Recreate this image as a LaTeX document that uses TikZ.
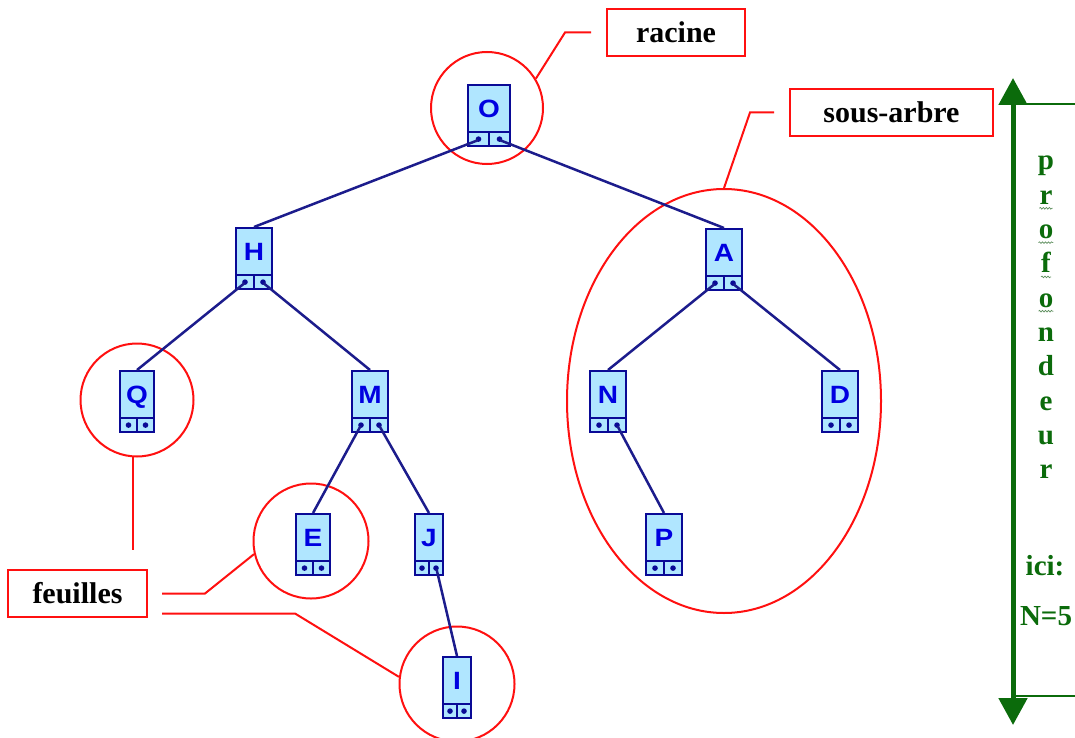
\documentclass[tikz,border=0pt]{standalone}
\usepackage{fontspec}
\usepackage{graphicx}
\setmainfont{Liberation Serif}
\newfontfamily\lettersans{Liberation Sans}
\usetikzlibrary{calc,shapes.geometric,decorations.pathmorphing,arrows.meta}

\definecolor{boxblue}{HTML}{0A0A96}
\definecolor{boxfill}{HTML}{B0E6FF}
\definecolor{letterblue}{HTML}{0000E0}
\definecolor{edgeblue}{HTML}{1C1C8C}
\definecolor{markred}{HTML}{FF1010}
\definecolor{depthgreen}{HTML}{0B6B0B}
\definecolor{squiggle}{HTML}{5E8F5E}

\newcommand\widelet[1]{\scalebox{1.12}[1]{#1}}

\begin{document}
\begin{tikzpicture}[x=1pt,y=-1pt,
  tnode/.style={draw=boxblue, fill=boxfill, line width=2.2pt, rectangle,
    anchor=north, inner sep=0pt, minimum width=#1,
    text height=32.5pt, text depth=28.5pt, text=letterblue,
    font=\lettersans\bfseries\fontsize{25}{25}\selectfont,
    path picture={
      \draw[boxblue, line width=2.2pt]
        ([yshift=14pt]path picture bounding box.south west) --
        ([yshift=14pt]path picture bounding box.south east);
      \draw[boxblue, line width=2.2pt]
        (path picture bounding box.south) --
        ([yshift=14pt]path picture bounding box.south);
      \fill[boxblue] ($(path picture bounding box.south west)!.5!(path picture bounding box.south)+(0,-7)$) circle (2.8pt);
      \fill[boxblue] ($(path picture bounding box.south east)!.5!(path picture bounding box.south)+(0,-7)$) circle (2.8pt);
    }},
  edge/.style={edgeblue, line width=2.5pt},
  ring/.style={circle, draw=markred, line width=2pt, minimum size=#1, inner sep=0pt},
  lab/.style={draw=markred, fill=white, line width=2pt, inner sep=0pt,
    minimum height=47pt, font=\bfseries\fontsize{30}{30}\selectfont},
  lead/.style={markred, line width=2pt},
  depthtxt/.style={anchor=base, inner sep=0pt, text=depthgreen,
    font=\bfseries\fontsize{29}{29}\selectfont},
  wavy/.style={squiggle, line width=0.7pt,
    decorate, decoration={snake, segment length=3pt, amplitude=0.8pt}}
]
\fill[white] (0,0) rectangle (1075,738);
\useasboundingbox (0,0) rectangle (1075,738);

% red highlight rings and the subtree ellipse
\node[ring=112pt] (cO) at (487,108) {};
\node[ring=113pt] (cQ) at (137,400) {};
\node[ring=115pt] (cE) at (311,541) {};
\node[ring=115pt] (cI) at (457,684) {};
\node[ellipse, draw=markred, line width=2pt, minimum width=314pt,
      minimum height=424pt, inner sep=0pt] (sub) at (724,401) {};

% tree nodes
\node[tnode=42pt] (O) at (489,84)  {\widelet{O}};
\node[tnode=36pt] (H) at (254,227) {\widelet{H}};
\node[tnode=36pt] (A) at (724,228) {\widelet{A}};
\node[tnode=34pt] (Q) at (137,370) {\widelet{Q}};
\node[tnode=36pt] (M) at (370,370) {\widelet{M}};
\node[tnode=36pt] (N) at (608,370) {\widelet{N}};
\node[tnode=36pt] (D) at (840,370) {\widelet{D}};
\node[tnode=34pt] (E) at (313,513) {\widelet{E}};
\node[tnode=28pt] (J) at (429,513) {\widelet{J}};
\node[tnode=36pt] (P) at (664,513) {\widelet{P}};
\node[tnode=28pt] (I) at (457,656) {\widelet{I}};

% child links, from the pointer dot of the parent to the top of the child
\foreach \p/\c/\s in {O/H/west, O/A/east, H/Q/west, H/M/east, M/E/west,
                      M/J/east, J/I/east, A/N/west, A/D/east, N/P/east}
  \draw[edge] ($(\p.south \s)!.5!(\p.south)+(0,-7)$) -- (\c.north);

% labels
\node[lab, minimum width=138pt] (racine) at (676,32.5) {racine};
\node[lab, minimum width=203pt] (sousarbre) at (891.5,112.5) {sous-arbre};
\node[lab, minimum width=139pt] (feuilles) at (77.5,593.5) {feuilles};

% leader lines
\draw[lead] (cO.31) -- (565,32.5) -- ([xshift=-15pt]racine.west);
\draw[lead] ([xshift=-15pt]sousarbre.west) -- (750,112.5) -- (sub.north);
\draw[lead] ([xshift=14pt]feuilles.east) -- (205,593.5) -- (cE.193);
\draw[lead] ([xshift=14pt,yshift=-20pt]feuilles.east) -- (295,613.5) -- (cI.173);
\draw[lead] (cQ.266) -- ++(0,93);

% depth arrow
\coordinate (dtop) at (1013,78);
\coordinate (dbot) at (1013,725);
\coordinate (ltop) at (1013,104);
\coordinate (lbot) at (1013,696);
\draw[depthgreen, line width=2pt] (ltop) -- ++(62,0);
\draw[depthgreen, line width=2pt] (lbot) -- ++(62,0);
\draw[depthgreen, line width=5pt,
  {Triangle[width=28pt,length=27pt]}-{Triangle[width=28pt,length=27pt]}]
  (dtop) -- (dbot);

\node[depthtxt] (d0) at (1046,170)   {p};
\node[depthtxt] (d1) at (1046,204.3) {r};
\node[depthtxt] (d2) at (1046,238.6) {o};
\node[depthtxt] (d3) at (1046,272.9) {f};
\node[depthtxt] (d4) at (1046,307.2) {o};
\node[depthtxt] (d5) at (1046,341.5) {n};
\node[depthtxt] (d6) at (1046,375.8) {d};
\node[depthtxt] (d7) at (1046,410.1) {e};
\node[depthtxt] (d8) at (1046,444.4) {u};
\node[depthtxt] (d9) at (1046,478.7) {r};
\foreach \k in {1,2,3,4}
  \draw[wavy] ([yshift=-4pt]d\k.base west) -- ([yshift=-4pt]d\k.base east);

\node[depthtxt] (ici) at (1045,575) {ici:};
\node[depthtxt] (nval) at (1046,625) {N=5};
\end{tikzpicture}
\end{document}
